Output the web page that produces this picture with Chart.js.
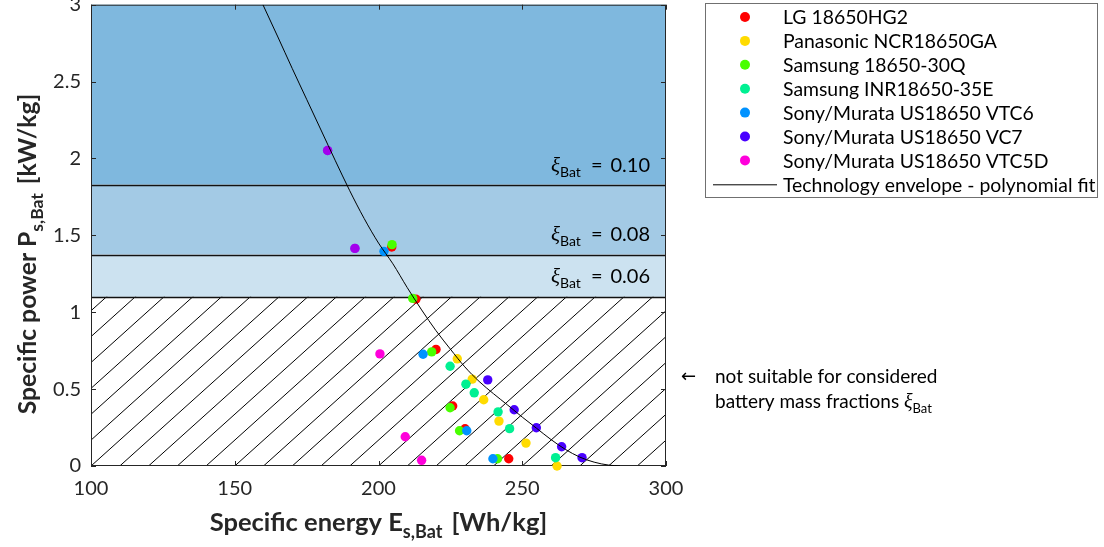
<!DOCTYPE html>
<html>
<head>
<meta charset="utf-8">
<script src="https://cdn.jsdelivr.net/npm/chart.js@4.4.1/dist/chart.umd.min.js"></script>
<style>
  html, body { margin: 0; padding: 0; background: #ffffff; }
  #wrap { width: 1104px; height: 547px; position: relative; }
</style>
</head>
<body>
<div id="wrap"><canvas id="chart" width="1104" height="547"></canvas></div>
<script>
// ---- Cell data: specific energy [Wh/kg] vs specific power [kW/kg] ----
const seriesNames = [
  'LG 18650HG2',
  'Panasonic NCR18650GA',
  'Samsung 18650-30Q',
  'Samsung INR18650-35E',
  'Sony/Murata US18650 VTC6',
  'Sony/Murata US18650 VC7',
  'Sony/Murata US18650 VTC5D'
];
const lgEnergy    = [204.6, 213.0, 220.0, 225.8, 230.1, 245.3];
const lgPower     = [1.424, 1.085, 0.758, 0.390, 0.242, 0.047];
const gaEnergy    = [227.4, 232.6, 236.6, 241.9, 251.3, 262.1];
const gaPower     = [0.697, 0.565, 0.431, 0.292, 0.149, 0.000];
const q30Energy   = [204.7, 211.9, 218.5, 224.9, 228.2, 241.4];
const q30Power    = [1.440, 1.090, 0.742, 0.379, 0.229, 0.047];
const e35Energy   = [224.9, 230.4, 233.3, 241.6, 245.6, 261.6];
const e35Power    = [0.649, 0.532, 0.476, 0.352, 0.243, 0.054];
const vtc6Energy  = [201.9, 215.5, 230.7, 239.8];
const vtc6Power   = [1.396, 0.727, 0.229, 0.047];
const vc7Energy   = [182.3, 191.8, 238.0, 247.2, 254.9, 263.7, 270.8];
const vc7Power    = [2.052, 1.415, 0.560, 0.366, 0.249, 0.125, 0.054];
const vtc5dEnergy = [182.3, 191.8, 200.5, 209.3, 215.0];
const vtc5dPower  = [2.052, 1.415, 0.729, 0.190, 0.037];

// Technology envelope (polynomial fit), sampled
const envelopeEnergy = [159.8, 165, 170, 175, 180, 185, 190, 195, 200, 205, 210, 215, 220, 225, 230, 235, 240, 245, 250, 255, 260, 265, 270, 275, 280, 284];
const envelopePower  = [3.00, 2.79, 2.585, 2.385, 2.185, 1.985, 1.79, 1.61, 1.45, 1.315, 1.16, 1.015, 0.88, 0.76, 0.645, 0.55, 0.47, 0.395, 0.318, 0.245, 0.172, 0.108, 0.058, 0.025, 0.006, 0.0];

// Minimum specific power required for each battery mass fraction
const fractionLevels = ['0.10', '0.08', '0.06'];
const fractionPower  = [1.83, 1.375, 1.10];

// Axis ticks
const xTickValues = [100, 150, 200, 250, 300];
const yTickValues = [0, 0.5, 1, 1.5, 2, 2.5, 3];

// ---- Styling ----
const seriesColors = ['rgb(255,0,0)', 'rgb(255,219,0)', 'rgb(73,255,0)', 'rgb(0,240,146)',
                      'rgb(0,146,255)', 'rgb(73,0,255)', 'rgb(255,0,219)'];
const bandColors = ['#7fb8de', '#a3cae5', '#cce2f0'];
const AXIS_COLOR = '#262626';
const FONT = 'Lato, "Open Sans", sans-serif';

const energies = [lgEnergy, gaEnergy, q30Energy, e35Energy, vtc6Energy, vc7Energy, vtc5dEnergy];
const powers   = [lgPower, gaPower, q30Power, e35Power, vtc6Power, vc7Power, vtc5dPower];

function zip(xs, ys) { return xs.map((x, i) => ({ x: x, y: ys[i] })); }

// where a VTC5D point sits on a VC7 point, let the lower one show through
function sharesVC7(pt) {
  return vc7Energy.some((e, i) => e === pt.x && vc7Power[i] === pt.y);
}

const datasets = seriesNames.map((name, i) => ({
  label: name,
  data: zip(energies[i], powers[i]),
  backgroundColor: i === 6
    ? (ctx) => (ctx.raw && sharesVC7(ctx.raw) ? 'rgba(255,0,219,0.5)' : seriesColors[i])
    : seriesColors[i],
  borderWidth: 0,
  pointRadius: 4.7,
  pointHoverRadius: 4.7,
  pointBorderWidth: 0,
  clip: false,
  order: 7 - i
}));
datasets.push({
  label: 'Technology envelope - polynomial fit',
  data: zip(envelopeEnergy, envelopePower),
  showLine: true,
  borderColor: '#000000',
  borderWidth: 1,
  pointRadius: 0,
  pointHoverRadius: 0,
  cubicInterpolationMode: 'monotone',
  fill: false,
  order: 0
});

// draw a run of text pieces (for subscripts) on one baseline
function drawRich(ctx, parts, x, y, align) {
  let total = 0;
  parts.forEach(p => { ctx.font = p.font; p.w = ctx.measureText(p.text).width; total += p.w + (p.gap || 0); });
  let cx = align === 'center' ? x - total / 2 : align === 'right' ? x - total : x;
  ctx.textAlign = 'left';
  ctx.textBaseline = 'alphabetic';
  parts.forEach(p => {
    ctx.font = p.font;
    ctx.fillText(p.text, cx, y + (p.dy || 0));
    cx += p.w + (p.gap || 0);
  });
}

const xiFont = 'italic 21px "Liberation Serif", serif';

// backdrop: shaded fraction bands, hatched unsuitable region, axes box and inward ticks
const backdrop = {
  id: 'backdrop',
  beforeDatasetsDraw(chart) {
    const { ctx, chartArea: a, scales: { x, y } } = chart;
    ctx.save();
    ctx.fillStyle = '#ffffff';
    ctx.fillRect(a.left, a.top, a.right - a.left, a.bottom - a.top);

    // bands, top to bottom
    const edges = [y.max].concat(fractionPower);
    for (let i = 0; i < fractionPower.length; i++) {
      const yTop = y.getPixelForValue(edges[i]);
      const yBot = y.getPixelForValue(edges[i + 1]);
      ctx.fillStyle = bandColors[i];
      ctx.fillRect(a.left, yTop, a.right - a.left, yBot - yTop);
    }

    // hatching below the lowest fraction
    const hTop = y.getPixelForValue(fractionPower[fractionPower.length - 1]);
    ctx.save();
    ctx.beginPath();
    ctx.rect(a.left, hTop, a.right - a.left, a.bottom - hTop);
    ctx.clip();
    ctx.strokeStyle = '#000000';
    ctx.lineWidth = 1;
    const slope = 0.9;
    const rise = a.bottom - a.top;
    for (let e = x.min - 300; e <= x.max + 10; e += 10) {
      const x0 = x.getPixelForValue(e);
      ctx.beginPath();
      ctx.moveTo(x0, a.bottom);
      ctx.lineTo(x0 + rise / slope, a.bottom - rise);
      ctx.stroke();
    }
    ctx.restore();

    // band boundaries
    ctx.strokeStyle = '#111111';
    ctx.lineWidth = 1.3;
    fractionPower.forEach(v => {
      const py = Math.round(y.getPixelForValue(v)) + 0.5;
      ctx.beginPath();
      ctx.moveTo(a.left, py);
      ctx.lineTo(a.right, py);
      ctx.stroke();
    });

    // axes box
    ctx.strokeStyle = AXIS_COLOR;
    ctx.lineWidth = 1;
    ctx.strokeRect(a.left + 0.5, a.top + 0.5, a.right - a.left - 1, a.bottom - a.top - 1);

    // inward ticks on all four sides
    const tl = 5;
    ctx.beginPath();
    xTickValues.forEach(v => {
      const px = Math.round(x.getPixelForValue(v)) + 0.5;
      ctx.moveTo(px, a.bottom); ctx.lineTo(px, a.bottom - tl);
      ctx.moveTo(px, a.top); ctx.lineTo(px, a.top + tl);
    });
    yTickValues.forEach(v => {
      const py = Math.round(y.getPixelForValue(v)) + 0.5;
      ctx.moveTo(a.left, py); ctx.lineTo(a.left + tl, py);
      ctx.moveTo(a.right, py); ctx.lineTo(a.right - tl, py);
    });
    ctx.stroke();
    ctx.restore();
  },
  afterDatasetsDraw(chart) {
    const { ctx } = chart;
    ctx.save();
    ctx.fillStyle = '#000000';
    // fraction labels above each boundary
    const labelBase = [172, 241, 283];
    fractionLevels.forEach((lvl, i) => {
      drawRich(ctx, [
        { text: 'ξ', font: xiFont },
        { text: 'Bat', font: '14px ' + FONT, dy: 5, gap: 10 },
        { text: '=', font: '20px ' + FONT, gap: 8 },
        { text: lvl, font: '20px ' + FONT }
      ], 650, labelBase[i], 'right');
    });
    ctx.restore();
  }
};

// titles, legend and side note
const overlay = {
  id: 'overlay',
  afterDraw(chart) {
    const { ctx, chartArea: a } = chart;
    ctx.save();
    ctx.fillStyle = AXIS_COLOR;

    // x-axis title
    drawRich(ctx, [
      { text: 'Specific energy E', font: 'bold 25.5px ' + FONT },
      { text: 's,Bat', font: 'bold 18px ' + FONT, dy: 7, gap: 9 },
      { text: '[Wh/kg]', font: 'bold 25.5px ' + FONT }
    ], (a.left + a.right) / 2, 531, 'center');

    // y-axis title
    ctx.save();
    ctx.translate(36, 254);
    ctx.rotate(-Math.PI / 2);
    drawRich(ctx, [
      { text: 'Specific power P', font: 'bold 24.7px ' + FONT },
      { text: 's,Bat', font: 'bold 17.5px ' + FONT, dy: 7, gap: 9 },
      { text: '[kW/kg]', font: 'bold 24.7px ' + FONT }
    ], 0, 0, 'center');
    ctx.restore();

    // legend
    const lx = 705.5, ly = 3.5, lw = 392, lh = 194;
    ctx.fillStyle = '#ffffff';
    ctx.fillRect(lx, ly, lw, lh);
    ctx.font = '19.4px ' + FONT;
    ctx.textAlign = 'left';
    ctx.textBaseline = 'middle';
    const rowY0 = 17, rowStep = 23.9;
    chart.data.datasets.forEach((ds, i) => {
      const ry = rowY0 + i * rowStep;
      if (i < seriesNames.length) {
        ctx.fillStyle = seriesColors[i];
        ctx.beginPath();
        ctx.arc(745, ry, 5, 0, Math.PI * 2);
        ctx.fill();
      } else {
        ctx.strokeStyle = '#000000';
        ctx.lineWidth = 1;
        ctx.beginPath();
        ctx.moveTo(713, ry + 0.5);
        ctx.lineTo(777, ry + 0.5);
        ctx.stroke();
      }
      ctx.fillStyle = '#000000';
      ctx.fillText(ds.label, 783, ry + 1);
    });
    ctx.strokeStyle = '#707070';
    ctx.lineWidth = 1;
    ctx.strokeRect(lx, ly, lw, lh);

    // note beside the hatched region
    ctx.fillStyle = '#000000';
    ctx.font = '18px "DejaVu Sans", sans-serif';
    ctx.textBaseline = 'middle';
    ctx.fillText('←', 681, 377);
    drawRich(ctx, [{ text: 'not suitable for considered', font: '19px ' + FONT }], 715, 383, 'left');
    drawRich(ctx, [
      { text: 'battery mass fractions ', font: '19px ' + FONT },
      { text: 'ξ', font: 'italic 20px "Liberation Serif", serif' },
      { text: 'Bat', font: '13px ' + FONT, dy: 5 }
    ], 715, 408, 'left');
    ctx.restore();
  }
};

Chart.defaults.font.family = FONT;
Chart.defaults.color = AXIS_COLOR;

function pinX(s) { s.height = 81; s.paddingLeft = 0; s.paddingRight = 0; }
function pinY(s) { s.width = 91; s.paddingTop = 0; s.paddingBottom = 0; }

new Chart(document.getElementById('chart'), {
  type: 'scatter',
  data: { datasets: datasets },
  options: {
    responsive: false,
    devicePixelRatio: 1,
    animation: false,
    events: [],
    layout: { padding: { left: 0, top: 4, right: 438, bottom: 0 } },
    plugins: { legend: { display: false }, tooltip: { enabled: false } },
    scales: {
      x: {
        type: 'linear',
        min: 100, max: 300,
        afterBuildTicks: (s) => { s.ticks = xTickValues.map(v => ({ value: v })); },
        afterFit: pinX,
        grid: { display: false, drawTicks: false },
        border: { display: false },
        ticks: { font: { size: 20 }, color: AXIS_COLOR, padding: 11, maxRotation: 0,
                 callback: (v) => String(v) }
      },
      y: {
        type: 'linear',
        min: 0, max: 3,
        afterBuildTicks: (s) => { s.ticks = yTickValues.map(v => ({ value: v })); },
        afterFit: pinY,
        grid: { display: false, drawTicks: false },
        border: { display: false },
        ticks: { font: { size: 20 }, color: AXIS_COLOR, padding: 10,
                 callback: (v) => String(v) }
      }
    }
  },
  plugins: [backdrop, overlay]
});
</script>
</body>
</html>
